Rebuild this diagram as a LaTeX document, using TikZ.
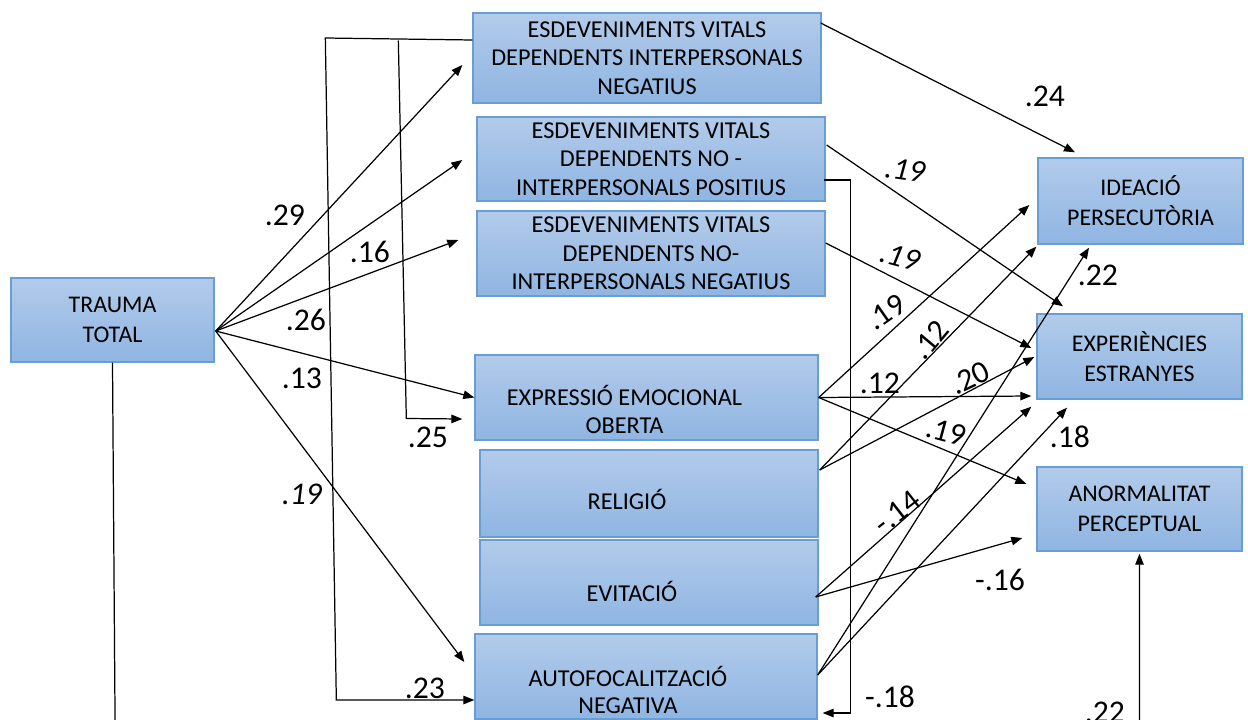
\documentclass[tikz,border=0pt]{standalone}
\usepackage{fontspec}
\setmainfont{Carlito}
\usetikzlibrary{arrows.meta,calc}
\definecolor{boxtop}{RGB}{178,203,234}
\definecolor{boxbot}{RGB}{143,181,226}
\definecolor{boxedge}{RGB}{104,157,214}

\begin{document}
\begin{tikzpicture}[x=0.02cm, y=-0.02cm,
      box/.style={draw=boxedge, line width=0.8pt, top color=boxtop, bottom color=boxbot,
                  align=center, inner sep=0pt, font=\fontsize{13.6}{17}\selectfont},
      evbox/.style={box, font=\fontsize{13.8}{16.2}\selectfont},
      txt/.style={align=center, inner sep=0pt, font=\fontsize{13.8}{15.6}\selectfont},
      arr/.style={-{Triangle[length=2.2mm,width=1.7mm]}, line width=0.7pt},
      coef/.style={font=\fontsize{18}{20}\selectfont, inner sep=0pt},
      coefit/.style={font=\fontsize{18}{20}\selectfont\itshape, inner sep=0pt}
    ]
    \clip (0,0) rectangle (1248,720);

    \node[box, minimum width=4.06cm, minimum height=1.68cm] (trauma) at (112.5,320)
      {TRAUMA\\TOTAL};
    \node[evbox, minimum width=6.96cm, minimum height=1.8cm] (evdin) at (647,58)
      {ESDEVENIMENTS VITALS\\DEPENDENTS INTERPERSONALS\\NEGATIUS};
    \node[evbox, minimum width=6.96cm, minimum height=1.68cm] (evdnip) at (651,159)
      {ESDEVENIMENTS VITALS\\DEPENDENTS NO -\\INTERPERSONALS POSITIUS};
    \node[evbox, minimum width=6.96cm, minimum height=1.7cm] (evdnin) at (651,253.5)
      {ESDEVENIMENTS VITALS\\DEPENDENTS NO-\\INTERPERSONALS NEGATIUS};
    \node[box, minimum width=6.86cm, minimum height=1.7cm] (eeo) at (646.5,397.5) {};
    \node[box, minimum width=6.76cm, minimum height=1.74cm] (rel) at (649,493.5) {};
    \node[box, minimum width=6.76cm, minimum height=1.7cm] (evi) at (649,582.5) {};
    \node[box, minimum width=6.84cm, minimum height=1.7cm] (afn) at (646,676.5) {};
    \node[txt] (eeo-t) at ($(eeo)+(-22,12)$) {EXPRESSIÓ EMOCIONAL\\OBERTA};
    \node[txt] (rel-t) at ($(rel)+(-22,5.5)$) {RELIGIÓ};
    \node[txt] (evi-t) at ($(evi)+(-17,8.5)$) {EVITACIÓ};
    \node[txt] (afn-t) at ($(afn)+(-18,13.5)$) {AUTOFOCALITZACIÓ\\NEGATIVA};
    \node[box, minimum width=4.1cm, minimum height=1.72cm] (idp) at (1140.5,201)
      {IDEACIÓ\\PERSECUTÒRIA};
    \node[box, minimum width=4.1cm, minimum height=1.7cm] (exe) at (1139.5,356.5)
      {EXPERIÈNCIES\\ESTRANYES};
    \node[box, minimum width=4.1cm, minimum height=1.68cm] (anp) at (1139.5,509)
      {ANORMALITAT\\PERCEPTUAL};

    \coordinate (tr-o) at ($(trauma.east)+(1,11)$);
    \coordinate (eeo-o) at (eeo.east);
    \coordinate (rel-o) at ($(rel.east)+(1,-23.5)$);
    \coordinate (evi-o) at ($(evi.east)+(-3,14.5)$);
    \coordinate (afn-o) at ($(afn.east)+(0,-1.5)$);

    \draw[arr] (tr-o) -- ($(evdin.west)+(-10,7)$);
    \draw[arr] (tr-o) -- ($(evdnip.west)+(-14,1)$);
    \draw[arr] (tr-o) -- ($(evdnin.west)+(-18,-13.5)$);
    \draw[arr] (tr-o) -- (eeo.west);
    \draw[arr] (tr-o) -- ($(afn.west)+(-10,-14.5)$);

    \draw[arr] ($(evdin.west)+(0,-18)$) -- ++(-147,-2) -- ++(11,662)
      -- ($(afn.west)+(0,23.5)$);
    \draw[arr] ($(evdin.west)+(-74,-17.5)$) -- ++(8,378)
      -- ($(eeo.west)+(-12,21.5)$);
    \draw[arr] ($(evdnip.east)+(-2,21)$) -- ++(27,0) |- ($(afn.east)+(5,36.5)$);
    \draw[arr] (trauma.south) -- ++(3,420) -| ($(anp.south)+(0,2)$);

    \draw[arr] ($(evdin.east)+(-1,-35)$) -- ($(idp.north)+(-65.5,-5)$);
    \draw[arr] ($(evdnip.east)+(1,-14)$) -- ($(exe.north)+(-76.5,-7)$);
    \draw[arr] ($(evdnin.east)+(0,-10.5)$) -- ($(exe.west)+(-5,-8.5)$);
    \draw[arr] (eeo-o) -- ($(idp.west)+(-8,4)$);
    \draw[arr] (eeo-o) -- ($(exe.west)+(-5,39.5)$);
    \draw[arr] (eeo-o) -- ($(anp.west)+(-10,-25)$);
    \draw[arr] (rel-o) -- ($(idp.south west)+(-1,2)$);
    \draw[arr] (rel-o) -- ($(exe.west)+(-2,0.5)$);
    \draw[arr] (evi-o) -- ($(exe.south west)+(-5,7)$);
    \draw[arr] (evi-o) -- ($(anp.west)+(-14,29)$);
    \draw[arr] (afn-o) -- ($(idp.south)+(-51.5,3)$);
    \draw[arr] (afn-o) -- ($(exe.south)+(-72.5,8)$);

    \node[coef] (c-tr-evdin) at (285,215) {.29};
    \node[coef] (c-tr-evdnip) at (370,252) {.16};
    \node[coef] (c-tr-evdnin) at (306,320) {.26};
    \node[coef] (c-tr-eeo) at (302,378) {.13};
    \node[coefit] (c-tr-afn) at (302,494) {.19};
    \node[coef] (c-evdin-eeo) at (428,437) {.25};
    \node[coef] (c-evdin-afn) at (425,688) {.23};
    \node[coef] (c-evdnip-afn) at (890,697) {-.18};
    \node[coef] (c-tr-anp) at (1105,712) {.22};
    \node[coef] (c-evdin-idp) at (1045,96) {.24};
    \node[coefit, rotate=-8] (c-evdnip-exe) at (905,170) {.19};
    \node[coefit, rotate=-15] (c-evdnin-exe) at (900,257) {.19};
    \node[coef] (c-afn-idp) at (1098,275) {.22};
    \node[coef, rotate=35] (c-eeo-idp) at (886,312) {.19};
    \node[coef, rotate=50] (c-rel-idp) at (930,340) {.12};
    \node[coef] (c-eeo-exe) at (880,383) {.12};
    \node[coef, rotate=25] (c-rel-exe) at (970,378) {.20};
    \node[coef, rotate=-15] (c-eeo-anp) at (946,432) {.19};
    \node[coef] (c-afn-exe) at (1070,437) {.18};
    \node[coef, rotate=38] (c-evi-exe) at (897,512) {-.14};
    \node[coef] (c-evi-anp) at (1000,580) {-.16};
  \end{tikzpicture}
\end{document}
